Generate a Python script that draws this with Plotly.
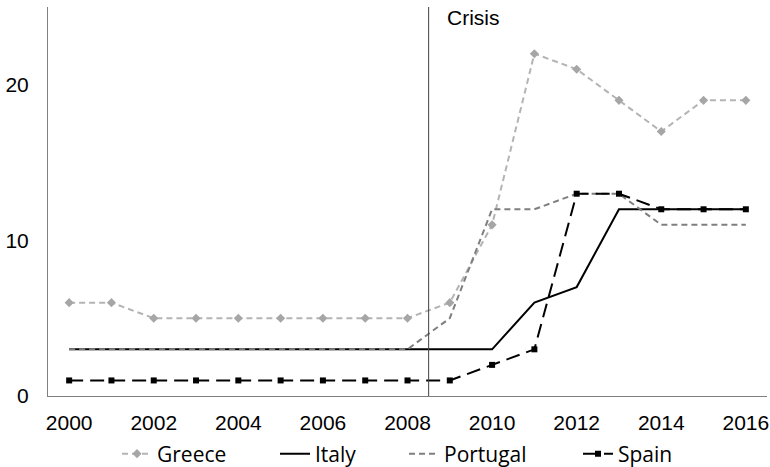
import plotly.graph_objects as go

years = list(range(2000, 2017))
greece = [6, 6, 5, 5, 5, 5, 5, 5, 5, 6, 11, 22, 21, 19, 17, 19, 19]
italy = [3, 3, 3, 3, 3, 3, 3, 3, 3, 3, 3, 6, 7, 12, 12, 12, 12]
portugal = [3, 3, 3, 3, 3, 3, 3, 3, 3, 5, 12, 12, 13, 13, 11, 11, 11]
spain = [1, 1, 1, 1, 1, 1, 1, 1, 1, 1, 2, 3, 13, 13, 12, 12, 12]
crisis_year = 2008.5

fig = go.Figure()
fig.add_trace(go.Scatter(
    x=years, y=greece, name="Greece", mode="lines+markers", legend="legend",
    line=dict(color="#b4b4b4", width=2, dash="6px,4px"),
    marker=dict(symbol="diamond", size=7, color="#a6a6a6"),
))
fig.add_trace(go.Scatter(
    x=years, y=italy, name="Italy", mode="lines", legend="legend2",
    line=dict(color="#000000", width=2),
))
fig.add_trace(go.Scatter(
    x=years, y=portugal, name="Portugal", mode="lines", legend="legend3",
    line=dict(color="#7f7f7f", width=2, dash="6px,4px"),
))
fig.add_trace(go.Scatter(
    x=years, y=spain, name="Spain", mode="lines+markers", legend="legend4",
    line=dict(color="#000000", width=2, dash="14px,7px"),
    marker=dict(symbol="square", size=6, color="#000000"),
))

fig.add_shape(type="line", xref="x", yref="y", x0=crisis_year, x1=crisis_year,
              y0=0, y1=25, line=dict(color="#404040", width=1))
fig.add_annotation(x=crisis_year, y=25, xref="x", yref="y", text="Crisis",
                   showarrow=False, xanchor="left", yanchor="top",
                   xshift=16, yshift=3,
                   font=dict(family="Liberation Sans, Arial, sans-serif", size=21, color="#000000"))

legend_font = dict(family="Open Sans, sans-serif", size=21, color="#000000")


def legend_at(px):
    return dict(orientation="h", xref="container", x=px / 770, xanchor="left",
                yref="container", y=13 / 467, yanchor="middle",
                font=legend_font, bgcolor="rgba(0,0,0,0)", itemwidth=30)


fig.update_layout(
    width=770, height=467,
    margin=dict(l=48, r=3, t=7, b=71, autoexpand=False),
    plot_bgcolor="white", paper_bgcolor="white",
    font=dict(family="Liberation Sans, Arial, sans-serif", size=21, color="#000000"),
    showlegend=True,
    legend=legend_at(117),
    legend2=legend_at(275),
    legend3=legend_at(404),
    legend4=legend_at(578),
    xaxis=dict(range=[1999.5, 2016.5], tickmode="array", tickvals=list(range(2000, 2017, 2)),
               showgrid=False, zeroline=False, showline=True, linecolor="#7f7f7f",
               linewidth=1, ticks="", ticklabelstandoff=8),
    yaxis=dict(range=[0, 25], tickvals=[0, 10, 20], showgrid=False, zeroline=False,
               showline=True, linecolor="#7f7f7f", linewidth=1, ticks="",
               ticklabelstandoff=14),
)

fig.write_html("out.html")
